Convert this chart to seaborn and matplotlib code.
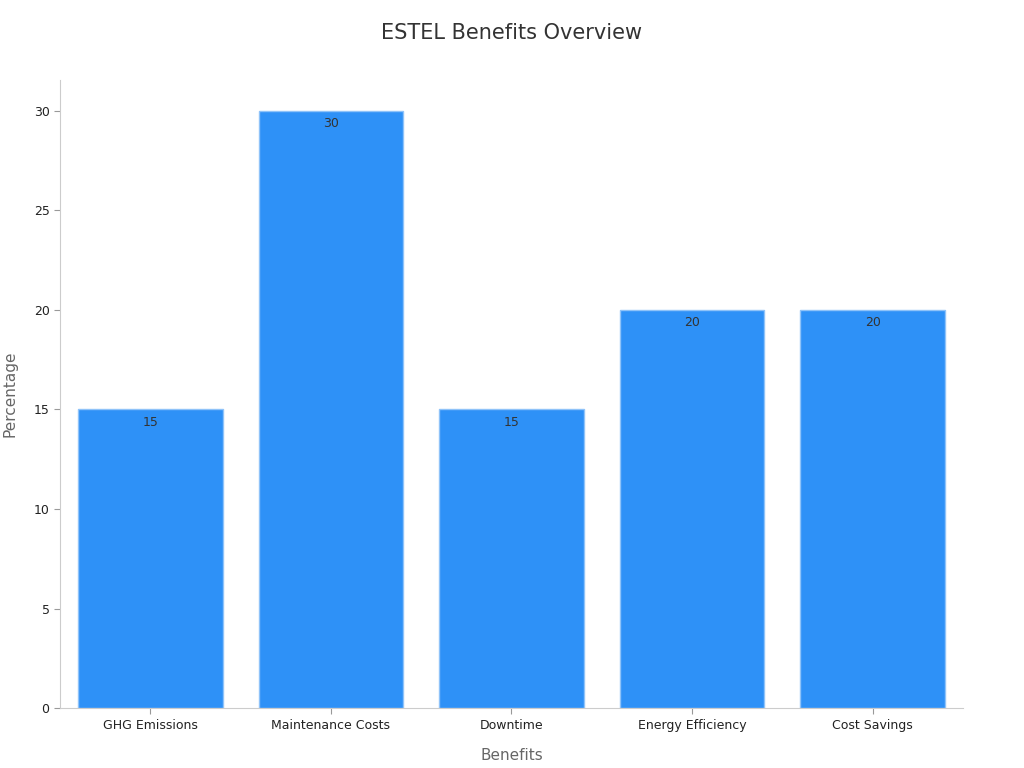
import matplotlib
matplotlib.use("Agg")
import matplotlib.pyplot as plt
import seaborn as sns
import pandas as pd

categories = ["GHG Emissions", "Maintenance Costs", "Downtime", "Energy Efficiency", "Cost Savings"]
values = [15, 30, 15, 20, 20]

df = pd.DataFrame({"Benefits": categories, "Percentage": values})

plt.rcParams["font.family"] = "DejaVu Sans"
fig = plt.figure(figsize=(10.24, 7.68), dpi=100)
ax = fig.add_axes([0.0586, 0.078, 0.8818, 0.818])
sns.barplot(data=df, x="Benefits", y="Percentage", color="#2E91F7", saturation=1,
            edgecolor="#8fc3f9", linewidth=1, width=0.8, ax=ax)
ax.set_xlim(-0.5, 4.5)
ax.set_ylim(0, 31.55)
ax.set_yticks([0, 5, 10, 15, 20, 25, 30])
for c in ax.containers:
    ax.bar_label(c, labels=[str(v) for v in values], padding=-14, fontsize=9, color="#333333")
for s in ["top", "right"]:
    ax.spines[s].set_visible(False)
for s in ["left", "bottom"]:
    ax.spines[s].set_color("#cccccc")
ax.tick_params(axis="both", labelsize=9, colors="#222222", length=4)
ax.tick_params(axis="both", color="#999999")
ax.set_xlabel("Benefits", fontsize=11, color="#666666", labelpad=12)
ax.set_ylabel("Percentage", fontsize=11, color="#666666", labelpad=12)
fig.suptitle("ESTEL Benefits Overview", fontsize=15, color="#333333", y=0.97)
fig.savefig("out.png", dpi=100)
